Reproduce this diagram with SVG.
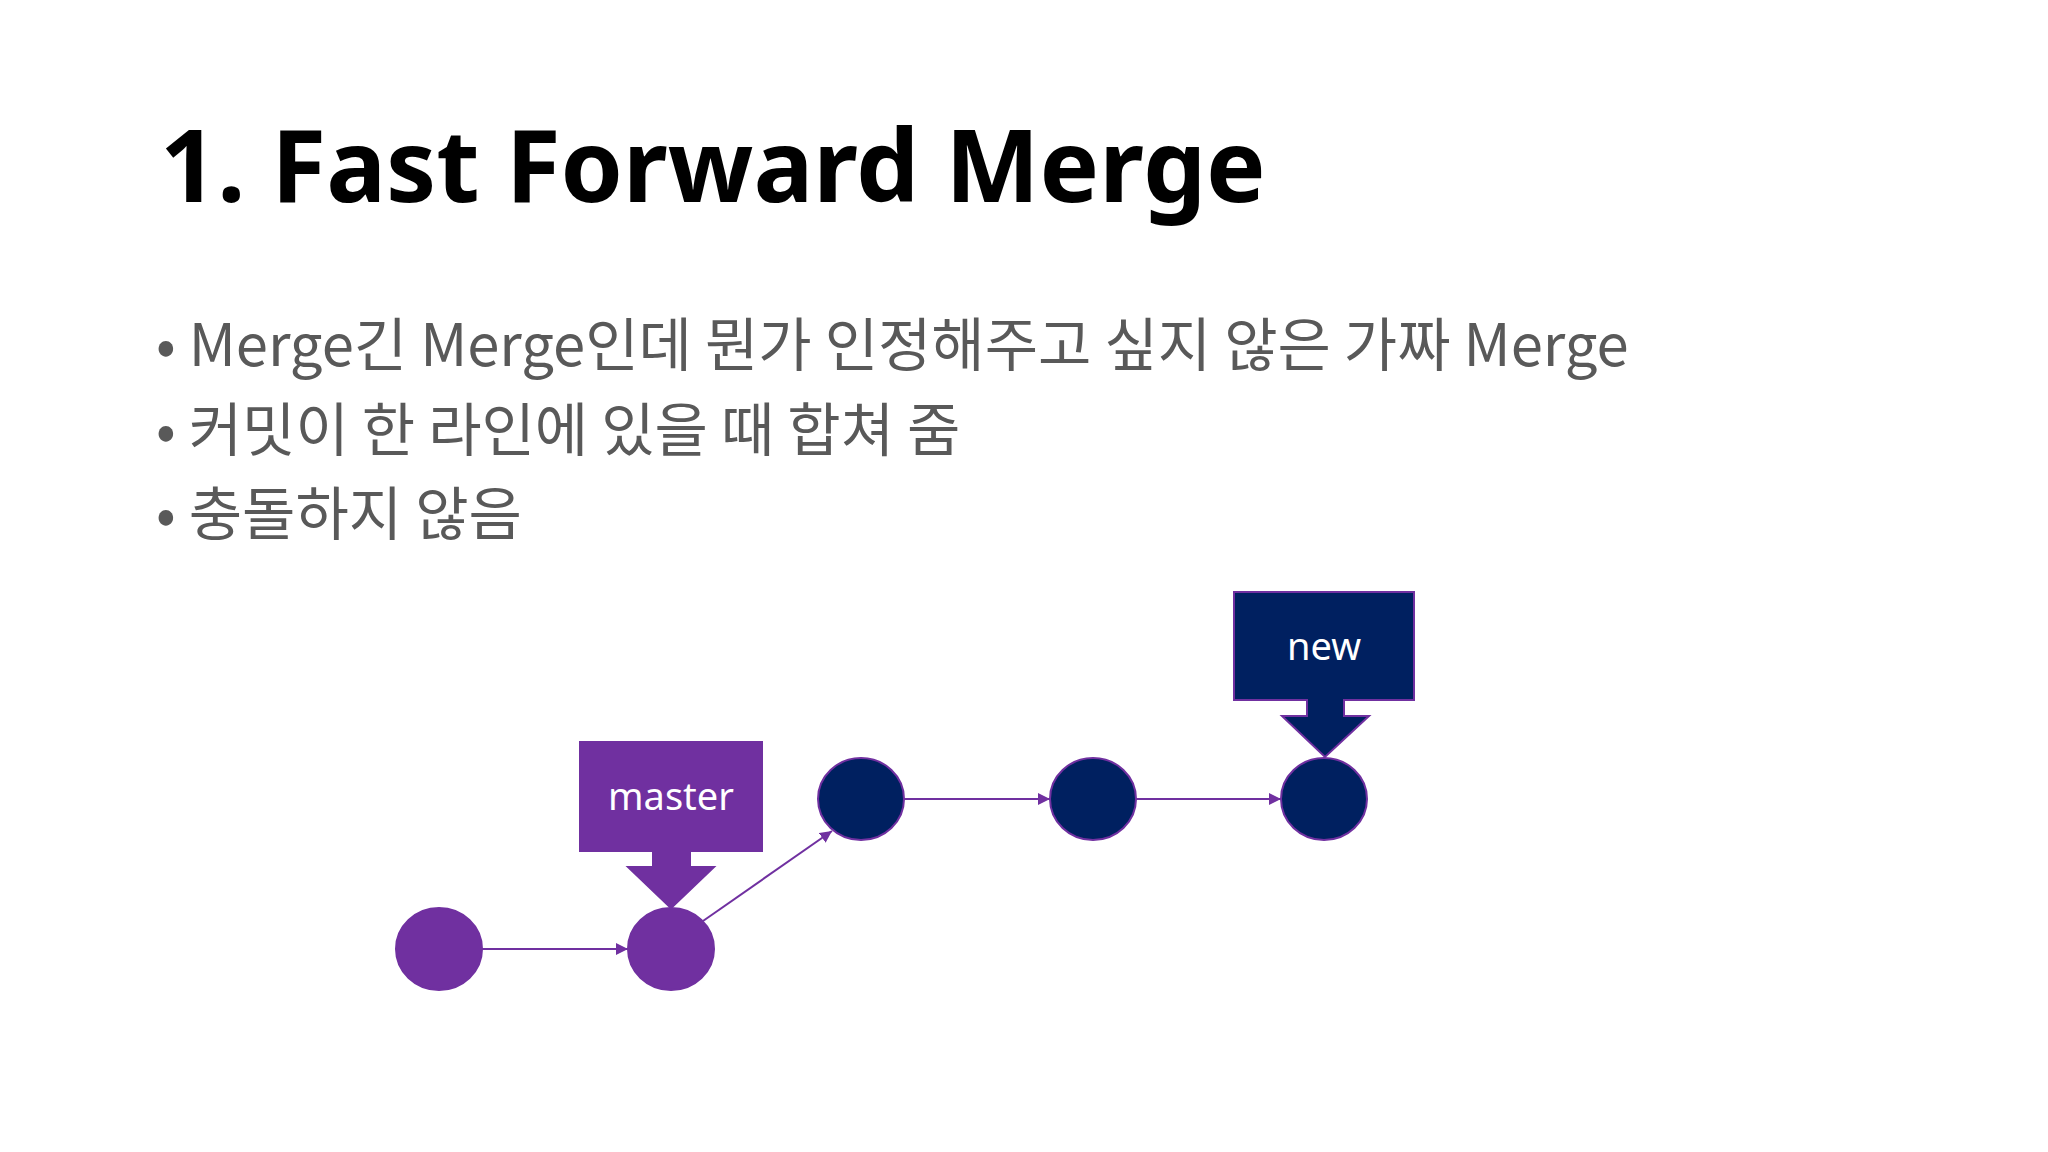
<svg xmlns="http://www.w3.org/2000/svg" width="2048" height="1152" viewBox="0 0 2048 1152">
<defs>
<style>
.title{font-family:"Noto Sans","Noto Sans CJK KR",sans-serif;font-weight:bold;font-size:100px;fill:#000}
.b{font-family:"Noto Sans CJK KR","Noto Sans",sans-serif;font-size:58px;fill:#595959}
.lbl{font-family:"Noto Sans","Noto Sans CJK KR",sans-serif;font-size:38px;fill:#fff}
.p{fill:#7030a0;stroke:#7030a0;stroke-width:2}
.n{fill:#002060;stroke:#7030a0;stroke-width:2}
.c{stroke:#7030a0;stroke-width:2;fill:none;marker-end:url(#ah)}
</style>
<marker id="ah" viewBox="0 0 10 10" refX="10" refY="5" markerWidth="6" markerHeight="6" orient="auto" markerUnits="strokeWidth"><path d="M0,0L10,5L0,10z" fill="#7030a0"/></marker>
</defs>
<rect width="2048" height="1152" fill="#fff"/>
<text class="title" x="160" y="202">1. Fast Forward Merge</text>
<g class="b">
<text x="156" y="366">• Merge긴 Merge인데 뭔가 인정해주고 싶지 않은 가짜 Merge</text>
<text x="156" y="451">• 커밋이 한 라인에 있을 때 합쳐 줌</text>
<text x="156" y="535">• 충돌하지 않음</text>
</g>
<g id="connectors">
<line class="c" x1="482" y1="949" x2="628" y2="949"/>
<line class="c" x1="703" y1="921" x2="832" y2="831"/>
<line class="c" x1="904" y1="799" x2="1050" y2="799"/>
<line class="c" x1="1136" y1="799" x2="1281" y2="799"/>
</g>
<g id="c1"><ellipse class="p" cx="439" cy="949" rx="43" ry="41"/></g>
<g id="c2"><ellipse class="p" cx="671" cy="949" rx="43" ry="41"/></g>
<g id="c3"><ellipse class="n" cx="861" cy="799" rx="43" ry="41"/></g>
<g id="c4"><ellipse class="n" cx="1093" cy="799" rx="43" ry="41"/></g>
<g id="c5"><ellipse class="n" cx="1324" cy="799" rx="43" ry="41"/></g>
<g id="master">
<path class="p" d="M580,742H762V851H690V867H714L671,908L628,867H653V851H580Z"/>
<text class="lbl" x="671" y="810" text-anchor="middle">master</text>
</g>
<g id="new">
<path class="n" d="M1234,592H1414V700H1344V716H1369L1325,757L1282,716H1307V700H1234Z"/>
<text class="lbl" x="1324" y="660" text-anchor="middle">new</text>
</g>
</svg>
